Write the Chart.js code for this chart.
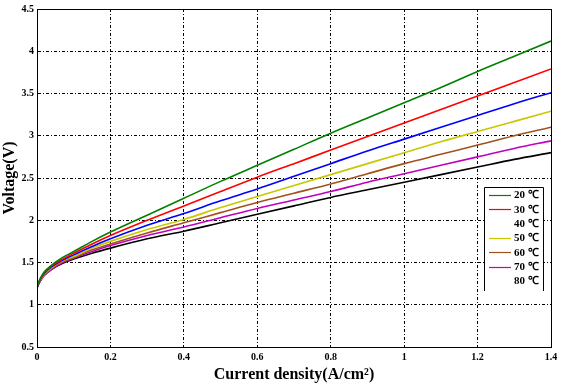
<!DOCTYPE html>
<html><head><meta charset="utf-8">
<script src="https://cdn.jsdelivr.net/npm/chart.js@4.4.1/dist/chart.umd.min.js"></script>
<style>html,body{margin:0;padding:0;background:#fff;}#wrap{width:562px;height:384px;}</style>
</head><body><div id="wrap"><canvas id="c" width="562" height="384"></canvas></div>
<script>
const currentDensity = [0, 0.005, 0.01, 0.02, 0.04, 0.07, 0.1, 0.15, 0.2, 0.3, 0.4, 0.5, 0.6, 0.7, 0.8, 0.9, 1.0, 1.1, 1.2, 1.3, 1.4];
const v20 = [1.20, 1.27, 1.32, 1.39, 1.47, 1.56, 1.63, 1.75, 1.86, 2.06, 2.26, 2.46, 2.65, 2.84, 3.03, 3.21, 3.39, 3.57, 3.76, 3.94, 4.12];
const v30 = [1.20, 1.27, 1.31, 1.38, 1.46, 1.54, 1.61, 1.72, 1.82, 2.00, 2.17, 2.34, 2.51, 2.67, 2.83, 2.99, 3.15, 3.31, 3.47, 3.63, 3.79];
const v40 = [1.20, 1.26, 1.31, 1.37, 1.45, 1.53, 1.59, 1.69, 1.78, 1.94, 2.08, 2.23, 2.37, 2.52, 2.67, 2.82, 2.96, 3.10, 3.24, 3.38, 3.51];
const v50 = [1.20, 1.26, 1.30, 1.36, 1.44, 1.52, 1.57, 1.67, 1.75, 1.89, 2.01, 2.15, 2.28, 2.41, 2.54, 2.67, 2.80, 2.93, 3.05, 3.17, 3.29];
const v60 = [1.20, 1.26, 1.30, 1.36, 1.43, 1.51, 1.56, 1.65, 1.72, 1.85, 1.97, 2.09, 2.21, 2.32, 2.43, 2.55, 2.67, 2.78, 2.89, 3.00, 3.10];
const v70 = [1.20, 1.25, 1.29, 1.35, 1.42, 1.50, 1.55, 1.63, 1.70, 1.82, 1.92, 2.03, 2.14, 2.24, 2.34, 2.45, 2.55, 2.65, 2.75, 2.85, 2.94];
const v80 = [1.20, 1.25, 1.29, 1.35, 1.42, 1.49, 1.54, 1.61, 1.67, 1.78, 1.87, 1.97, 2.07, 2.17, 2.27, 2.36, 2.45, 2.54, 2.63, 2.72, 2.80];
const seriesLabels = ['20 ℃', '30 ℃', '40 ℃', '50 ℃', '60 ℃', '70 ℃', '80 ℃'];
const seriesValues = [v20, v30, v40, v50, v60, v70, v80];
const seriesColors = ['#008000', '#ff0000', '#0000ff', '#c8c800', '#a0521e', '#c000c0', '#000000'];
const legendShowsLine = [true, true, false, true, true, true, false];
const xTicks = [0, 0.2, 0.4, 0.6, 0.8, 1, 1.2, 1.4];
const yTicks = [0.5, 1, 1.5, 2, 2.5, 3, 3.5, 4, 4.5];

const FONT = 'Liberation Serif';

const datasets = seriesValues.map((vals, i) => ({
  label: seriesLabels[i],
  data: currentDensity.map((x, j) => ({x: x, y: vals[j]})),
  borderColor: seriesColors[i],
  backgroundColor: seriesColors[i],
  borderWidth: 1.6,
  pointRadius: 0,
  cubicInterpolationMode: 'monotone',
  fill: false
}));

const boxPlugin = {
  id: 'boxLegend',
  afterDraw(chart) {
    const ctx = chart.ctx;
    const a = chart.chartArea;
    ctx.save();
    ctx.setLineDash([]);
    ctx.strokeStyle = '#000';
    ctx.lineWidth = 1;
    ctx.strokeRect(Math.round(a.left) + 0.5, Math.round(a.top) + 0.5, Math.round(a.right - a.left), Math.round(a.bottom - a.top));
    // legend
    const L = Math.round(a.right - 67), R = Math.round(a.right - 8), T = Math.round(a.top + 178), B = Math.round(a.top + 282);
    ctx.fillStyle = '#fff';
    ctx.fillRect(L, T, R - L, B - T);
    ctx.beginPath();
    ctx.moveTo(L + 0.5, B); ctx.lineTo(L + 0.5, T + 0.5); ctx.lineTo(R + 0.5, T + 0.5); ctx.lineTo(R + 0.5, B);
    ctx.stroke();
    ctx.font = 'bold 11px "' + FONT + '"';
    ctx.textBaseline = 'middle';
    ctx.textAlign = 'left';
    seriesLabels.forEach((lab, i) => {
      const y = T + 8 + i * 14.3;
      if (legendShowsLine[i]) {
        ctx.strokeStyle = seriesColors[i];
        ctx.lineWidth = 1.2;
        ctx.beginPath();
        ctx.moveTo(L + 5, Math.round(y) + 0.5); ctx.lineTo(L + 27, Math.round(y) + 0.5);
        ctx.stroke();
      }
      ctx.fillStyle = '#000';
      ctx.fillText(lab, L + 30, y + 0.5);
    });
    ctx.restore();
  }
};

new Chart(document.getElementById('c'), {
  type: 'line',
  data: {datasets: datasets},
  options: {
    responsive: false,
    animation: false,
    layout: {padding: {top: 8, right: 11, left: 0, bottom: 0}},
    plugins: {legend: {display: false}, tooltip: {enabled: false}},
    scales: {
      x: {
        type: 'linear', min: 0, max: 1.4,
        afterFit(s) { s.height = 37; },
        afterBuildTicks(s) { s.ticks = xTicks.map(v => ({value: v})); },
        ticks: {color: '#000', padding: 4, maxRotation: 0, font: {family: FONT, size: 10, weight: 'bold'},
                callback: v => String(v)},
        grid: {color: '#000', lineWidth: 1, drawTicks: false},
        border: {display: true, color: '#000', dash: [3, 2, 1, 2]},
        title: {display: true, text: 'Current density(A/cm²)', color: '#000', padding: {top: 2, bottom: 0},
                font: {family: FONT, size: 16, weight: 'bold'}}
      },
      y: {
        type: 'linear', min: 0.5, max: 4.5,
        afterFit(s) { s.width = 37; },
        afterBuildTicks(s) { s.ticks = yTicks.map(v => ({value: v})); },
        ticks: {color: '#000', padding: 3, font: {family: FONT, size: 10, weight: 'bold'},
                callback: v => String(v)},
        grid: {color: '#000', lineWidth: 1, drawTicks: false},
        border: {display: true, color: '#000', dash: [3, 2, 1, 2]},
        title: {display: true, text: 'Voltage(V)', color: '#000', padding: {top: 0, bottom: 0},
                font: {family: FONT, size: 16, weight: 'bold'}}
      }
    }
  },
  plugins: [boxPlugin]
});
</script></body></html>
